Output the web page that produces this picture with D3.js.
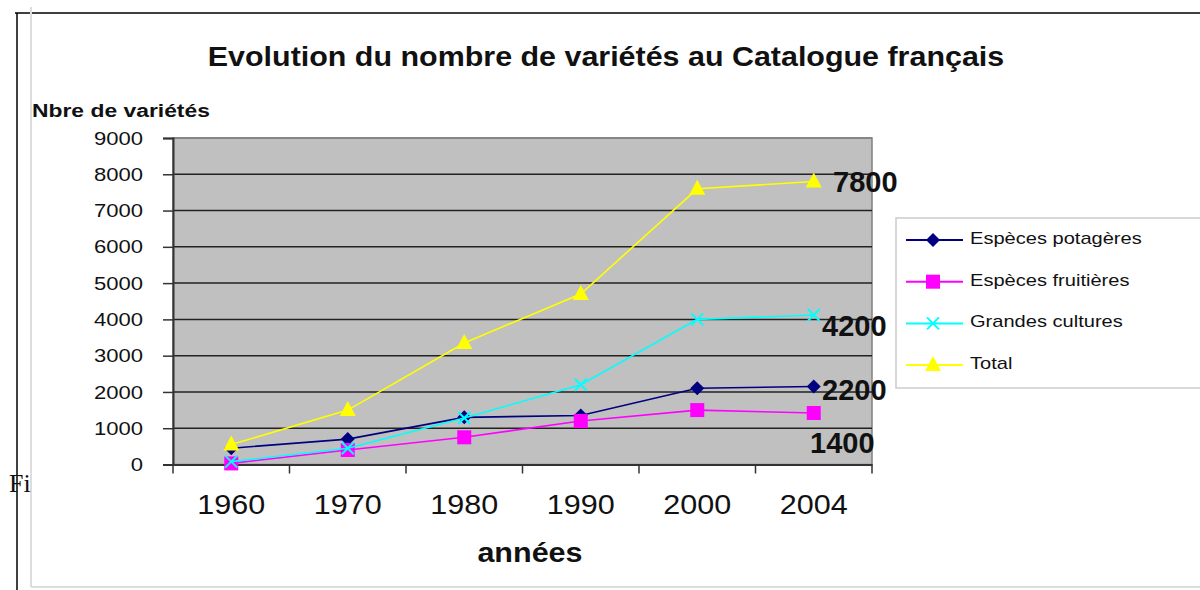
<!DOCTYPE html>
<html><head><meta charset="utf-8">
<script src="https://cdn.jsdelivr.net/npm/d3@7"></script>
<style>body{margin:0;background:#fff}svg{display:block}text{font-family:Arial,"Liberation Sans",sans-serif}</style>
</head><body><svg id="c" width="1200" height="590"></svg>
<script>
const years = ["1960","1970","1980","1990","2000","2004"];
const potageres = [450, 700, 1300, 1350, 2100, 2150];
const fruitieres = [30, 400, 750, 1200, 1500, 1420];
const grandes = [80, 450, 1280, 2200, 4000, 4120];
const total = [550, 1500, 3350, 4700, 7600, 7800];
const yTicks = [0,1000,2000,3000,4000,5000,6000,7000,8000,9000];
const seriesNames = ["Espèces potagères","Espèces fruitières","Grandes  cultures","Total"];
const endLabels = ["7800","4200","2200","1400"];

const svg = d3.select("#c");
const L=173, R=872, T=138, B=464.5;
const x = d3.scaleBand().domain(years).range([L,R]);
const y = d3.scaleLinear().domain([0,9000]).range([B,T]);

// stretch helper: widen text horizontally like the reference
function stretch(sel, k){
  sel.each(function(){
    const w = this.getComputedTextLength();
    d3.select(this).attr("textLength", w*k).attr("lengthAdjust","spacingAndGlyphs");
  });
}

// frame
svg.append("line").attr("x1",15).attr("x2",1200).attr("y1",13).attr("y2",13).attr("stroke","#000").attr("stroke-width",1.5);
svg.append("line").attr("x1",17).attr("x2",17).attr("y1",13).attr("y2",590).attr("stroke","#000").attr("stroke-width",1.5);
svg.append("line").attr("x1",31).attr("x2",31).attr("y1",7).attr("y2",587).attr("stroke","#ddd").attr("stroke-width",2);
svg.append("line").attr("x1",31).attr("x2",1200).attr("y1",587).attr("y2",587).attr("stroke","#ddd").attr("stroke-width",2);
svg.append("text").attr("x",9).attr("y",492).style("font-family","'Liberation Serif','DejaVu Serif',serif").attr("font-size",26).attr("fill","#111").text("Fi");

// plot area
svg.append("rect").attr("x",L).attr("y",T).attr("width",R-L).attr("height",B-T).attr("fill","#c0c0c0").attr("stroke","#808080").attr("stroke-width",1.5);
svg.append("g").selectAll("line").data(yTicks.slice(1)).join("line")
  .attr("x1",L).attr("x2",R).attr("y1",d=>y(d)).attr("y2",d=>y(d))
  .attr("stroke",d=>d===9000?"#808080":"#222").attr("stroke-width",1.5);

// y axis
const ya = svg.append("g").attr("transform",`translate(${L},0)`)
  .call(d3.axisLeft(y).tickValues(yTicks).tickSize(10).tickPadding(20).tickFormat(d3.format("d")));
ya.select(".domain").attr("stroke","#333").attr("stroke-width",2);
ya.selectAll(".tick line").attr("stroke","#333").attr("stroke-width",1.5);
ya.selectAll("text").attr("font-size",19).attr("fill","#111").style("font-family","Arial,'Liberation Sans',sans-serif");
stretch(ya.selectAll("text"),1.16);

// x axis
const xa = svg.append("g").attr("transform",`translate(0,${B})`)
  .call(d3.axisBottom(x).tickSize(0).tickPadding(30));
xa.select(".domain").attr("stroke","#333").attr("stroke-width",2);
xa.selectAll("text").attr("font-size",28).attr("fill","#111").style("font-family","Arial,'Liberation Sans',sans-serif");
stretch(xa.selectAll("text"),1.09);
const bounds = years.map(d=>x(d)).concat([R]);
svg.append("g").selectAll("line").data(bounds).join("line")
  .attr("x1",d=>d).attr("x2",d=>d).attr("y1",B).attr("y2",B+9).attr("stroke","#333").attr("stroke-width",1.5);

// title & axis titles
const title = svg.append("text").attr("x",606).attr("y",66).attr("text-anchor","middle").attr("font-size",27).attr("font-weight","bold").attr("fill","#111")
  .text("Evolution du nombre de variétés au Catalogue français");
stretch(title,1.127);
const yt = svg.append("text").attr("x",32).attr("y",117).attr("font-size",18).attr("font-weight","bold").attr("fill","#111").text("Nbre de variétés");
stretch(yt,1.27);
const xt = svg.append("text").attr("x",530).attr("y",562).attr("text-anchor","middle").attr("font-size",27).attr("font-weight","bold").attr("fill","#111").text("années");
stretch(xt,1.13);

const cx = d=>x(d)+x.bandwidth()/2;
const series = [
  {name:seriesNames[0], vals:potageres, color:"#000080", sym:"diamond"},
  {name:seriesNames[1], vals:fruitieres, color:"#ff00ff", sym:"square"},
  {name:seriesNames[2], vals:grandes, color:"#00ffff", sym:"x"},
  {name:seriesNames[3], vals:total, color:"#ffff00", sym:"triangle"}
];
function marker(g, s, px, py){
  if(s.sym==="diamond") g.append("path").attr("d",`M${px},${py-7}L${px+7},${py}L${px},${py+7}L${px-7},${py}Z`).attr("fill",s.color);
  else if(s.sym==="square") g.append("rect").attr("x",px-7).attr("y",py-7).attr("width",14).attr("height",14).attr("fill",s.color);
  else if(s.sym==="x") g.append("path").attr("d",`M${px-6},${py-6}L${px+6},${py+6}M${px-6},${py+6}L${px+6},${py-6}`).attr("stroke",s.color).attr("stroke-width",2);
  else g.append("path").attr("d",`M${px},${py-9}L${px+8},${py+6}L${px-8},${py+6}Z`).attr("fill",s.color);
}
const line = d3.line().x((d,i)=>cx(years[i])).y(d=>y(d));
series.forEach(s=>{
  const g = svg.append("g");
  g.append("path").datum(s.vals).attr("d",line).attr("fill","none").attr("stroke",s.color).attr("stroke-width",1.6);
  s.vals.forEach((v,i)=>marker(g,s,cx(years[i]),y(v)));
});

// end labels
const lblPos = [[833,192],[822,336],[822,400],[810,453]];
const el = svg.append("g").selectAll("text").data(endLabels).join("text")
  .attr("x",(d,i)=>lblPos[i][0]).attr("y",(d,i)=>lblPos[i][1])
  .attr("font-size",29).attr("font-weight","bold").attr("fill","#111").text(d=>d);

// legend
const lg = svg.append("g");
lg.append("rect").attr("x",896).attr("y",218).attr("width",320).attr("height",170).attr("fill","#fff").attr("stroke","#ccc").attr("stroke-width",1.5);
series.forEach((s,i)=>{
  const ly = 240 + i*41.7;
  lg.append("line").attr("x1",906).attr("x2",963).attr("y1",ly).attr("y2",ly).attr("stroke",s.color).attr("stroke-width",2);
  marker(lg,s,933,ly);
  const t = lg.append("text").attr("x",970).attr("y",ly+4).attr("font-size",17).attr("fill","#111").text(s.name);
  stretch(t,1.18);
});
</script></body></html>
